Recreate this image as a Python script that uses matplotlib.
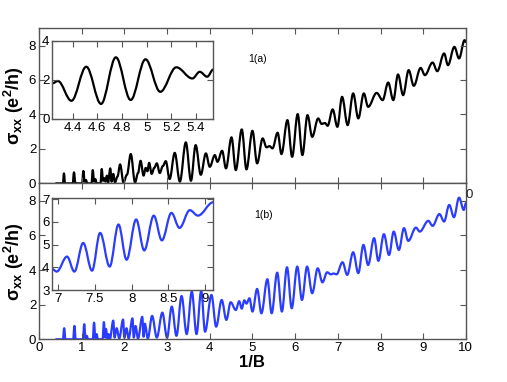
import matplotlib
matplotlib.use("Agg")
import matplotlib.pyplot as plt
from matplotlib.path import Path
from matplotlib.patches import PathPatch

# ---------------- data ----------------
top_x = [0.40, 0.56, 0.585, 0.61, 0.79, 0.82, 0.85, 0.87, 1.01, 1.04, 1.07, 1.10, 1.13,
         1.23, 1.26, 1.29, 1.32, 1.35, 1.44, 1.47, 1.50, 1.53, 1.56, 1.59, 1.62,
         1.67, 1.70, 1.74, 1.78, 1.84, 1.90, 1.98, 2.06, 2.15, 2.25, 2.32, 2.38, 2.45,
         2.50, 2.54, 2.58, 2.64, 2.70, 2.76, 2.83, 2.90, 2.97, 3.06, 3.18, 3.30, 3.44,
         3.56, 3.67, 3.79, 3.91, 4.00, 4.12, 4.18, 4.29, 4.38, 4.51, 4.61, 4.75, 4.86,
         5.00, 5.11, 5.24, 5.33, 5.40, 5.47, 5.59, 5.68, 5.82, 5.93, 6.06, 6.17, 6.29,
         6.40, 6.54, 6.62, 6.70, 6.76, 6.88, 6.99, 7.10, 7.23, 7.36, 7.48, 7.61, 7.71,
         7.91, 8.05, 8.18, 8.30, 8.41, 8.53, 8.66, 8.78, 8.94, 9.04, 9.22, 9.33, 9.49,
         9.58, 9.73, 9.84, 9.97, 10.0]
top_y = [0.0, 0.0, 0.58, 0.0, 0.0, 0.64, 0.05, 0.0, 0.0, 0.72, 0.10, 0.20, 0.0,
         0.0, 0.77, 0.10, 0.25, 0.0, 0.0, 0.83, 0.15, 0.30, 0.10, 0.45, 0.05,
         0.87, 0.10, 0.55, 0.05, 0.40, 1.10, 0.05, 0.50, 1.70, 0.05, 0.60, 1.31, 0.45,
         0.90, 0.70, 1.19, 0.55, 0.90, 1.16, 0.60, 1.00, 1.29, 0.25, 1.77, 0.10, 2.38,
         0.15, 2.22, 0.50, 1.74, 0.96, 1.64, 1.25, 1.89, 0.87, 2.67, 0.77, 3.13, 0.81,
         3.05, 1.16, 2.61, 2.09, 2.16, 2.03, 2.94, 1.70, 3.67, 1.54, 4.02, 1.64, 3.96,
         2.70, 3.77, 3.45, 3.50, 3.34, 4.29, 3.28, 5.02, 3.38, 5.22, 3.77, 5.22, 4.44,
         5.25, 4.83, 5.85, 4.83, 6.32, 5.12, 6.57, 5.66, 6.70, 6.28, 7.01, 6.51, 7.54,
         6.86, 7.92, 7.25, 8.31, 8.20]

bot_x = [0.40, 0.56, 0.59, 0.62, 0.80, 0.83, 0.86, 1.03, 1.06, 1.09, 1.12, 1.15,
         1.26, 1.29, 1.32, 1.35, 1.38, 1.49, 1.52, 1.55, 1.57, 1.60, 1.63, 1.66,
         1.74, 1.77, 1.82, 1.88, 1.97, 2.00, 2.05, 2.10, 2.19, 2.22, 2.26, 2.32,
         2.42, 2.45, 2.48, 2.55, 2.65, 2.76, 2.89, 3.00, 3.11, 3.22, 3.34, 3.46,
         3.58, 3.69, 3.80, 3.89, 4.04, 4.15, 4.28, 4.39, 4.49, 4.61, 4.69, 4.75,
         4.81, 4.86, 4.93, 5.00, 5.11, 5.21, 5.35, 5.45, 5.58, 5.69, 5.81, 5.92,
         6.05, 6.16, 6.28, 6.40, 6.53, 6.64, 6.75, 6.84, 6.90, 6.97, 7.11, 7.22,
         7.36, 7.48, 7.60, 7.71, 7.85, 7.95, 8.08, 8.20, 8.31, 8.43, 8.55, 8.65,
         8.83, 8.92, 9.12, 9.22, 9.38, 9.49, 9.61, 9.72, 9.84, 9.95, 10.0]
bot_y = [0.0, 0.0, 0.64, 0.0, 0.0, 0.77, 0.0, 0.0, 0.87, 0.05, 0.20, 0.0,
         0.0, 0.96, 0.05, 0.30, 0.0, 0.0, 0.99, 0.10, 0.60, 0.05, 0.30, 0.0,
         1.08, 0.10, 0.64, 0.05, 1.14, 0.10, 0.64, 0.05, 1.21, 0.10, 0.77, 0.05,
         1.30, 0.15, 0.90, 0.05, 1.35, 0.10, 1.54, 0.10, 1.89, 0.20, 2.50, 0.30,
         2.75, 0.30, 2.80, 0.44, 2.56, 0.73, 2.27, 1.12, 2.14, 1.69, 2.20, 1.77,
         2.25, 2.06, 2.37, 1.60, 2.91, 1.50, 3.47, 1.50, 3.85, 1.60, 4.16, 1.79,
         4.20, 2.27, 4.20, 2.66, 4.10, 3.29, 3.87, 3.75, 3.80, 3.75, 4.45, 3.72,
         5.03, 3.82, 5.45, 4.29, 5.84, 4.53, 6.07, 4.87, 6.22, 5.16, 6.42, 5.68,
         6.45, 6.22, 6.84, 6.55, 7.23, 6.80, 7.76, 7.05, 8.18, 7.47, 7.86]

ins_a_x = [4.235, 4.28, 4.39, 4.51, 4.63, 4.75, 4.87, 4.99, 5.11, 5.24, 5.37, 5.43, 5.49, 5.54]
ins_a_y = [1.82, 1.94, 0.93, 2.67, 0.77, 3.15, 0.97, 3.05, 1.39, 2.64, 2.07, 2.41, 2.16, 2.53]

ins_b_x = [6.92, 6.98, 7.12, 7.22, 7.34, 7.46, 7.57, 7.70, 7.82, 7.93, 8.06, 8.17,
           8.30, 8.41, 8.54, 8.65, 8.79, 8.90, 9.11]
ins_b_y = [3.92, 3.81, 4.47, 3.81, 5.07, 3.85, 5.51, 4.03, 5.88, 4.33, 6.10, 4.74,
           6.27, 5.18, 6.39, 5.73, 6.51, 6.27, 6.86]

main_xticks = [0, 1, 2, 3, 4, 5, 6, 7, 8, 9, 10]
main_yticks = [0, 2, 4, 6, 8]
ins_a_xticks = [4.4, 4.6, 4.8, 5.0, 5.2, 5.4]
ins_a_xlabels = ["4.4", "4.6", "4.8", "5", "5.2", "5.4"]
ins_a_yticks = [0, 2, 4]
ins_b_xticks = [7, 7.5, 8, 8.5, 9]
ins_b_xlabels = ["7", "7.5", "8", "8.5", "9"]
ins_b_yticks = [3, 4, 5, 6, 7]

BLACK = "#000000"
BLUE = "#2a3cff"
SPINE = "#555555"
FONT = ["Liberation Sans Narrow", "Liberation Sans", "DejaVu Sans"]

plt.rcParams["font.family"] = FONT
plt.rcParams["mathtext.fontset"] = "custom"
plt.rcParams["mathtext.rm"] = "Liberation Sans"
plt.rcParams["mathtext.bf"] = "Liberation Sans:bold"
plt.rcParams["mathtext.it"] = "Liberation Sans:italic"


def smooth_curve(ax, xs, ys, color, lw, k=0.36):
    verts = [(xs[0], ys[0])]
    codes = [Path.MOVETO]
    for i in range(len(xs) - 1):
        dx = xs[i + 1] - xs[i]
        verts += [(xs[i] + k * dx, ys[i]), (xs[i + 1] - k * dx, ys[i + 1]),
                  (xs[i + 1], ys[i + 1])]
        codes += [Path.CURVE4] * 3
    patch = PathPatch(Path(verts, codes), facecolor="none", edgecolor=color,
                      lw=lw, capstyle="round", joinstyle="round")
    ax.add_patch(patch)


def style(ax, fs=10):
    for s in ax.spines.values():
        s.set_color(SPINE)
        s.set_linewidth(1.0)
    ax.tick_params(direction="in", length=4, width=0.8, color=SPINE,
                   top=True, right=True, labelsize=fs, pad=2)


fig = plt.figure(figsize=(5.07, 3.82), dpi=100)

ax1 = fig.add_axes([0.0769, 0.520, 0.842, 0.406])
ax2 = fig.add_axes([0.0769, 0.1118, 0.842, 0.408])

for ax, xs, ys, col in [(ax1, top_x, top_y, BLACK), (ax2, bot_x, bot_y, BLUE)]:
    smooth_curve(ax, xs, ys, col, 1.6)
    ax.set_xlim(0, 10)
    ax.set_ylim(0, 9)
    ax.set_xticks(main_xticks)
    ax.set_yticks(main_yticks)
    style(ax, 9.5)
    ax.set_ylabel(r"$\mathbf{\sigma}_{\mathbf{xx}}\ \mathbf{(e^{2}/h)}$",
                  fontsize=13, labelpad=2)
ax1.tick_params(labelbottom=False)
ax2.set_xlabel("1/B", fontsize=12, fontweight="bold", family="Liberation Sans",
               labelpad=1)

ax1.text(0.49, 0.78, "1(a)", transform=ax1.transAxes, fontsize=7.5)
ax2.text(0.505, 0.78, "1(b)", transform=ax2.transAxes, fontsize=7.5)
fig.text(469.5 / 507, 1 - 194.5 / 382, "0", fontsize=9.5, ha="center", va="center",
         color="#222222")

# insets
in1 = fig.add_axes([0.1032, 0.6885, 0.3176, 0.205])
smooth_curve(in1, ins_a_x, ins_a_y, BLACK, 1.6)
in1.set_xlim(4.235, 5.54)
in1.set_ylim(0, 4)
in1.set_xticks(ins_a_xticks)
in1.set_xticklabels(ins_a_xlabels)
in1.set_yticks(ins_a_yticks)
style(in1, 9.5)

in2 = fig.add_axes([0.1032, 0.2408, 0.3176, 0.240])
smooth_curve(in2, ins_b_x, ins_b_y, BLUE, 1.6)
in2.set_xlim(6.92, 9.11)
in2.set_ylim(3, 7.03)
in2.set_xticks(ins_b_xticks)
in2.set_xticklabels(ins_b_xlabels)
in2.set_yticks(ins_b_yticks)
style(in2, 9.5)

fig.savefig("out.png", dpi=100)
